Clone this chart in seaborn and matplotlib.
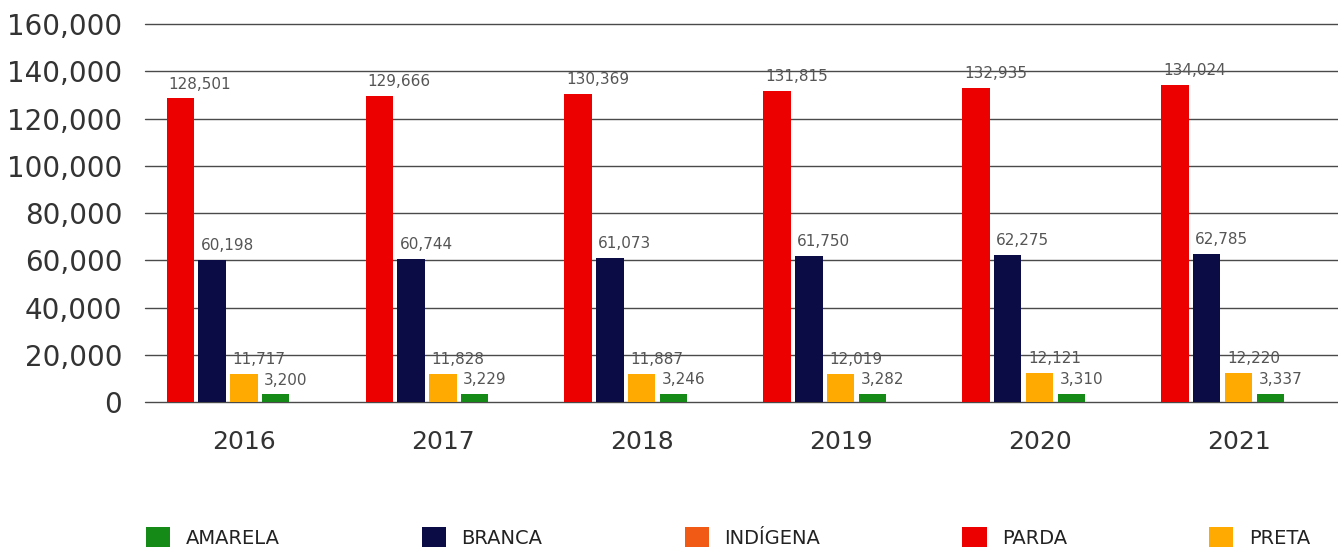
import numpy as np
import pandas as pd
import matplotlib
matplotlib.use("Agg")
import matplotlib.pyplot as plt
from matplotlib.patches import Patch
from matplotlib.ticker import FuncFormatter
import seaborn as sns

# Values per year and group
anos = ["2016", "2017", "2018", "2019", "2020", "2021"]
parda = [128501, 129666, 130369, 131815, 132935, 134024]
branca = [60198, 60744, 61073, 61750, 62275, 62785]
preta = [11717, 11828, 11887, 12019, 12121, 12220]
amarela = [3200, 3229, 3246, 3282, 3310, 3337]
indigena = [np.nan] * 6

grupos = ["PARDA", "BRANCA", "PRETA", "AMARELA", "INDÍGENA"]
legenda = ["AMARELA", "BRANCA", "INDÍGENA", "PARDA", "PRETA"]
cores = {
    "PARDA": "#EC0000",
    "BRANCA": "#0B0C45",
    "PRETA": "#FFAA00",
    "AMARELA": "#168A16",
    "INDÍGENA": "#F05A14",
}
y_ticks = [0, 20000, 40000, 60000, 80000, 100000, 120000, 140000, 160000]

series = dict(zip(grupos, [parda, branca, preta, amarela, indigena]))
df = pd.DataFrame(
    [(a, g, v) for g, vals in series.items() for a, v in zip(anos, vals)],
    columns=["ano", "grupo", "valor"],
)

sns.set_theme(style="white")
plt.rcParams["font.family"] = ["DejaVu Sans"]

fig = plt.figure(figsize=(13.38, 5.47), dpi=100)
ax = fig.add_axes([0.108, 0.265, 0.892, 0.691])

sns.barplot(
    data=df, x="ano", y="valor", hue="grupo", hue_order=grupos,
    order=anos, palette=cores, width=0.8, gap=0.14, legend=False,
    saturation=1, errorbar=None, linewidth=0, ax=ax,
)

for cont in ax.containers:
    for bar in cont:
        h = bar.get_height()
        if np.isfinite(h) and h > 0:
            ax.annotate(
                f"{h:,.0f}", xy=(bar.get_x(), h), xytext=(1.5, 5),
                textcoords="offset points", ha="left", va="bottom",
                fontsize=11, color="#555555",
            )

ax.set_ylim(0, 160000)
ax.set_xlim(-0.5, 5.5)
ax.set_yticks(y_ticks)
ax.yaxis.set_major_formatter(FuncFormatter(lambda v, p: f"{v:,.0f}"))
ax.grid(axis="y", color="#4a4a4a", linewidth=1.0)
ax.set_axisbelow(True)
for gl in ax.get_ygridlines():
    gl.set_clip_on(False)
for s in ax.spines.values():
    s.set_visible(False)
ax.tick_params(axis="y", length=0, pad=16, labelsize=20, labelcolor="#333333")
ax.tick_params(axis="x", length=0, pad=20, labelsize=18, labelcolor="#333333")
ax.set_xlabel("")
ax.set_ylabel("")

handles = [Patch(facecolor=cores[g], edgecolor="none") for g in legenda]
fig.legend(
    handles, legenda, ncol=5, loc="lower left", bbox_to_anchor=(0.096, -0.034),
    frameon=False, fontsize=14, handlelength=1.25, handleheight=1.25,
    handletextpad=0.8, columnspacing=7.3, labelcolor="#222222",
)

fig.savefig("out.png", dpi=100)
